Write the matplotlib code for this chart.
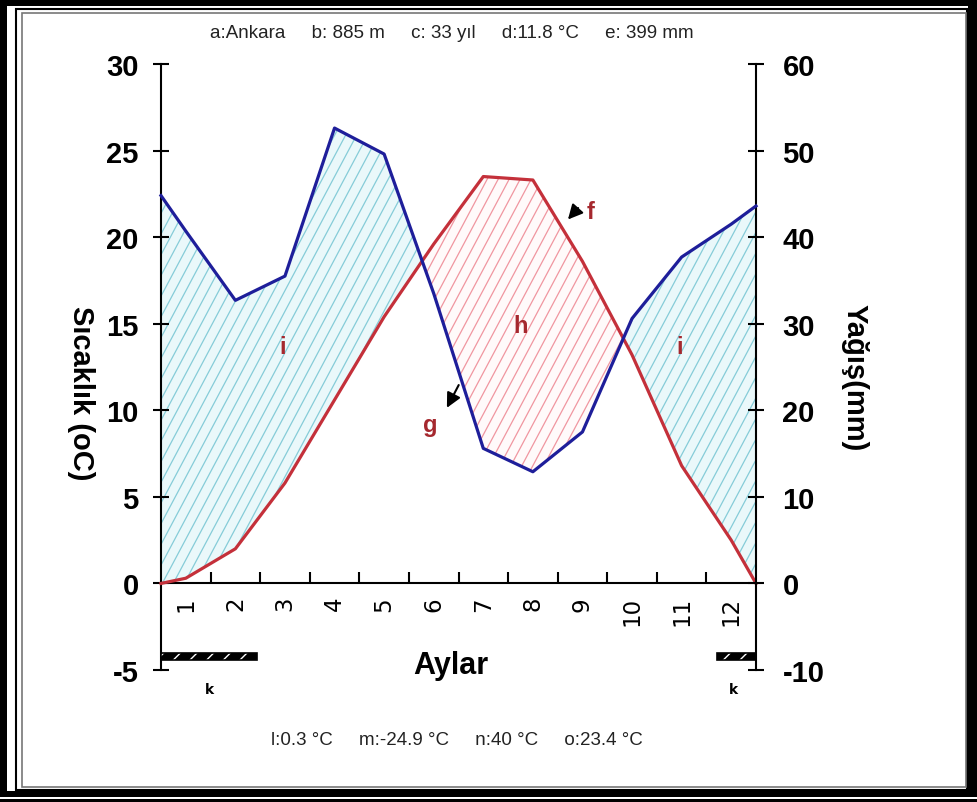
import numpy as np
import matplotlib
matplotlib.use("Agg")
import matplotlib.pyplot as plt
from matplotlib.path import Path
from matplotlib.collections import LineCollection
from matplotlib.transforms import IdentityTransform
from matplotlib.patches import Rectangle

plt.rcParams["axes.unicode_minus"] = False

# chart data (month positions incl. the two edges of the year)
month_pos = [0.5, 1, 2, 3, 4, 5, 6, 7, 8, 9, 10, 11, 12, 12.5]
temp = [0.0, 0.3, 2.0, 5.8, 10.6, 15.4, 19.6, 23.5, 23.3, 18.6, 13.2, 6.8, 2.5, 0.0]
precip = [44.8, 40.7, 32.7, 35.5, 52.6, 49.6, 33.5, 15.6, 12.9, 17.5, 30.6, 37.7, 41.5, 43.6]
months = [1, 2, 3, 4, 5, 6, 7, 8, 9, 10, 11, 12]
month_labels = [str(m) for m in months]
frost_spans = [(0.5, 2.44), (11.71, 12.5)]
temp_ticks = [-5, 0, 5, 10, 15, 20, 25, 30]
precip_ticks = [-10, 0, 10, 20, 30, 40, 50, 60]
top_info = "a:Ankara     b: 885 m     c: 33 yıl     d:11.8 °C     e: 399 mm"
bottom_info = "l:0.3 °C     m:-24.9 °C     n:40 °C     o:23.4 °C"

W, H = 977, 803
RED = "#c4303a"
BLUE = "#1e1e9a"
LETTER = "#a5282e"
NARROW = ["Liberation Sans Narrow", "Liberation Sans", "DejaVu Sans"]
BOLDF = ["Liberation Sans", "DejaVu Sans"]

fig = plt.figure(figsize=(W / 100, H / 100), dpi=100)
fig.patch.set_facecolor("black")


def px_rect(x0, y0, x1, y1, **kw):
    # rectangle given in image pixels (origin top left)
    r = Rectangle((x0, H - y1), x1 - x0, y1 - y0, transform=IdentityTransform(), **kw)
    fig.add_artist(r)
    return r


# double frame round the picture
px_rect(7, 7, 968, 792, facecolor="white", edgecolor="none", zorder=-10)
px_rect(0, 798, W, 800, facecolor="white", edgecolor="none", zorder=-10)
px_rect(16, 10, 967, 791, facecolor="none", edgecolor="black", lw=1.5, zorder=-9)
px_rect(22, 14, 966, 788, facecolor="none", edgecolor="#777777", lw=1.2, zorder=-9)

ax = fig.add_axes([161 / W, 1 - 671 / H, 595 / W, 606 / H])
ax.patch.set_alpha(0)
ax.set_xlim(0.5, 12.5)
ax.set_ylim(-5, 30)
ax2 = ax.twinx()
ax2.set_ylim(-10, 60)

for s in ["top", "right"]:
    ax.spines[s].set_visible(False)
for s in ["top", "left", "bottom"]:
    ax2.spines[s].set_visible(False)
ax.spines["bottom"].set_position(("data", 0))
ax.spines["bottom"].set_linewidth(1.5)
ax.spines["left"].set_linewidth(1.5)
ax2.spines["right"].set_linewidth(1.5)

# month boundaries as ticks, month numbers as minor labels
ax.set_xticks([m + 0.5 for m in months[:-1]])
ax.set_xticklabels([])
ax.set_xticks(months, labels=month_labels, minor=True)
ax.tick_params(axis="x", which="major", direction="in", length=8, width=1.5)
ax.tick_params(axis="x", which="minor", length=0, pad=9, labelsize=16.5, labelrotation=90)

ax.set_yticks(temp_ticks)
ax.tick_params(axis="y", direction="inout", length=12, width=1.5, pad=10)
for lab in ax.get_yticklabels():
    lab.set_fontfamily(NARROW)
    lab.set_fontweight("bold")
    lab.set_fontsize(21)

ax2.set_yticks(precip_ticks)
ax2.tick_params(axis="y", direction="inout", length=12, width=1.5, pad=13)
for lab in ax2.get_yticklabels():
    lab.set_fontfamily(BOLDF)
    lab.set_fontweight("bold")
    lab.set_fontsize(21)

# precipitation drawn on the temperature scale (10 mm = 5 degC)
p_half = np.array(precip) / 2.0
t_arr = np.array(temp)
x_arr = np.array(month_pos)

wet = ax.fill_between(x_arr, t_arr, p_half, where=p_half >= t_arr, interpolate=True,
                      facecolor="#eaf8fa", edgecolor="none", zorder=1)
dry = ax.fill_between(x_arr, t_arr, p_half, where=t_arr >= p_half, interpolate=True,
                      facecolor="#fffafa", edgecolor="none", zorder=1)


def add_hatch(coll, color, step=11, angle=62, lw=0.9):
    path = Path.make_compound_path(*coll.get_paths())
    run = H / np.tan(np.radians(angle))
    segs = [[(x, 0), (x + run, H)] for x in np.arange(-run, W, step)]
    lc = LineCollection(segs, colors=color, linewidths=lw,
                        transform=IdentityTransform(), zorder=1.5)
    ax.add_collection(lc, autolim=False)
    lc.set_clip_path(path, ax.transData)


add_hatch(wet, "#86ccd8")
add_hatch(dry, "#f096a0")

ax.plot(month_pos, temp, color=RED, lw=2.3, zorder=3, clip_on=False)
ax2.plot(month_pos, precip, color=BLUE, lw=2.3, zorder=3, clip_on=False)

# frost period bars
for x0, x1 in frost_spans:
    ax.add_patch(Rectangle((x0, -4.44), x1 - x0, 0.4, facecolor="black", edgecolor="none",
                           zorder=4, clip_on=False))
    ax.add_patch(Rectangle((x0, -4.44), x1 - x0, 0.4, facecolor="none", edgecolor="white",
                           hatch="//", lw=0, zorder=4.5, clip_on=False))
    ax.add_patch(Rectangle((x0, -4.44), x1 - x0, 0.4, facecolor="none", edgecolor="black",
                           lw=1.2, zorder=5, clip_on=False))
    ax.text((x0 + x1) / 2 if x0 < 1 else 12.04, -6.1, "k", ha="center", va="center",
            fontsize=10, fontweight="bold", clip_on=False)

# letters and arrows
lab_kw = dict(color=LETTER, fontsize=17, fontweight="bold", ha="center", va="center",
              family=BOLDF)
ax.text(2.96, 13.7, "i", **lab_kw)
ax.text(10.95, 13.7, "i", **lab_kw)
ax.text(7.76, 14.9, "h", **lab_kw)
ax.text(5.93, 9.2, "g", **lab_kw)
ax.text(9.17, 21.5, "f", **lab_kw)
ax.annotate("", xy=(8.67, 20.9), xytext=(8.95, 21.8),
            arrowprops=dict(arrowstyle="-|>", color="black", lw=1.5, mutation_scale=22))
ax.annotate("", xy=(6.24, 10.0), xytext=(6.53, 11.6),
            arrowprops=dict(arrowstyle="-|>", color="black", lw=1.5, mutation_scale=22))

# axis titles and info lines
fig.text(451 / W, 1 - 666 / H, "Aylar", ha="center", va="center", fontsize=22,
         fontweight="bold", family=BOLDF)
fig.text(81 / W, 1 - 393 / H, "Sıcaklık (oC)", ha="center", va="center", fontsize=21,
         fontweight="bold", rotation=270, family=BOLDF)
fig.text(855 / W, 1 - 378 / H, "Yağış(mm)", ha="center", va="center", fontsize=21,
         fontweight="bold", rotation=270, family=BOLDF)
fig.text(452 / W, 1 - 33 / H, top_info, ha="center", va="center", fontsize=13.5,
         family=NARROW, color="#222222")
fig.text(457 / W, 1 - 741 / H, bottom_info, ha="center", va="center", fontsize=13.5,
         family=NARROW, color="#222222")

fig.savefig("out.png", dpi=100, facecolor=fig.get_facecolor())
